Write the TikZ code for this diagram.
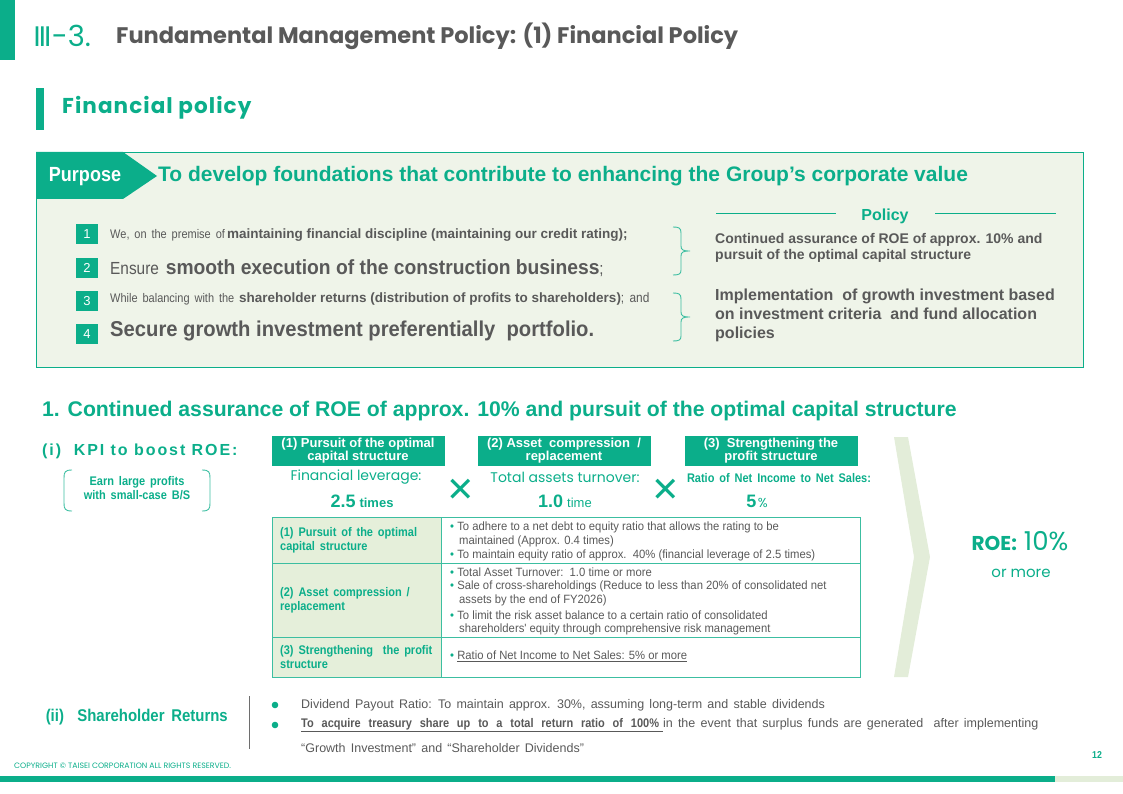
\documentclass[tikz,border=0pt]{standalone}
\usepackage{fontspec}
\setmainfont{Liberation Sans}
\newfontfamily\gothic{Poppins}
\newfontfamily\narrow{Liberation Sans}[FakeStretch=0.88]
\newfontfamily\midn{Liberation Sans}[FakeStretch=0.94]
\newfontfamily\narrowws{Liberation Sans}[FakeStretch=0.88, WordSpace=1.6]
\newfontfamily\widews{Liberation Sans}[WordSpace=1.5]
\newfontfamily\dejavu{DejaVu Sans}
\usetikzlibrary{calc}
\definecolor{tgreen}{RGB}{11,174,138}
\definecolor{bggreen}{RGB}{239,244,233}
\definecolor{cellgreen}{RGB}{229,239,218}
\definecolor{chev}{RGB}{227,237,217}
\definecolor{tgray}{RGB}{89,89,89}
\definecolor{lgray}{RGB}{110,110,110}
\newcommand\fsz[2]{\fontsize{#1}{#2}\selectfont}
\tikzset{
  txt/.style={inner sep=0pt, anchor=west, text=tgray},
  gtxt/.style={inner sep=0pt, text=tgreen},
  numbox/.style={fill=tgreen, text=white, minimum width=22pt, minimum height=20pt, inner sep=0pt, font=\fsz{13}{15}},
  hdrbox/.style={fill=tgreen, text=white, minimum width=173pt, minimum height=30pt, inner sep=0pt, align=center, font=\bfseries\fsz{13}{13}},
  bracepath/.style={draw=tgreen!80, line width=0.9pt},
  tline/.style={draw=tgreen, line width=0.8pt},
  cell/.style={draw=tgreen!80, line width=0.9pt},
  rowtxt/.style={inner sep=0pt, anchor=west, text=tgray, font=\midn\fsz{12}{14}},
  btxt/.style={inner sep=0pt, anchor=west, text=tgray, font=\widews\fsz{12.5}{14}},
  celltxt/.style={inner sep=0pt, anchor=west, text=tgreen, align=left, font=\narrow\bfseries\fsz{12.5}{14}},
  xmark/.style={inner sep=0pt, text=tgreen, font=\dejavu\bfseries\fsz{34}{36}},
}
\begin{document}
\begin{tikzpicture}[x=1pt,y=-1pt]
\useasboundingbox (0,0) rectangle (1123,794);
% header
\fill[tgreen] (0,0) rectangle (15,60);
\node[gtxt, anchor=west] (num) at (33,36) {\dejavu\fsz{27}{28}Ⅲ\gothic\fsz{29}{30}-3.};
\node[txt] (title) at (116,36) {\gothic\bfseries\fsz{22.5}{24}Fundamental Management Policy: (1) Financial Policy};
\fill[tgreen] (36,88) rectangle (44,130);
\node[gtxt, anchor=west] (fp) at (62,108) {\gothic\bfseries\fsz{21.5}{24}\addfontfeatures{LetterSpace=5}Financial policy};
% purpose box
\draw[tgreen, fill=bggreen, line width=0.8pt] (36,152) rectangle (1083,367);
\fill[tgreen] (36,152) -- (123,152) -- (157,176) -- (123,199) -- (36,199) -- cycle;
\node[inner sep=0pt, text=white] (purpose) at (85,177) {\narrow\bfseries\fsz{20.5}{22}Purpose};
\node[gtxt, anchor=west] (ptext) at (158,176) {\bfseries\fsz{21}{24}To develop foundations that contribute to enhancing the Group's corporate value};
% numbered items
\node[numbox] (n1) at (87,234) {1};
\node[numbox] (n2) at (87,268) {2};
\node[numbox] (n3) at (87,301) {3};
\node[numbox] (n4) at (87,334) {4};
\node[txt] (l1) at (110,235) {\narrow\fsz{12.5}{14}We, on the premise of\,\normalfont\fsz{13.5}{15}\bfseries maintaining financial discipline (maintaining our credit rating);};
\node[txt] (l2) at (110,268) {\narrow\fsz{17.5}{20}Ensure \midn\bfseries\fsz{20.5}{22}smooth execution of the construction business\narrow\mdseries\fsz{17}{20};};
\node[txt] (l3) at (110,299) {\narrow\fsz{12.5}{14}While balancing with the \normalfont\fsz{13.5}{15}\bfseries shareholder returns (distribution of profits to shareholders)\narrow\mdseries; and};
\node[txt] (l4) at (110,331) {\midn\bfseries\fsz{21.5}{24}Secure growth investment preferentially\ \ portfolio.};
% braces
\draw[bracepath] (673,227) .. controls (679,227) and (681,228) .. (681,233) -- (681,246) .. controls (681,250) and (683,251) .. (690,251) .. controls (683,251) and (681,252) .. (681,256) -- (681,270) .. controls (681,274) and (679,275) .. (673,275);
\draw[bracepath] (673,293) .. controls (679,293) and (681,294) .. (681,299) -- (681,312) .. controls (681,316) and (683,317) .. (690,317) .. controls (683,317) and (681,318) .. (681,322) -- (681,336) .. controls (681,340) and (679,341) .. (673,341);
% policy
\node[gtxt] (policy) at (885,216) {\bfseries\fsz{16}{18}Policy};
\draw[tline] (716,213) -- (836,213);
\draw[tline] (935,213) -- (1056,213);
\node[txt, align=left, font=\bfseries\fsz{14}{16.5}] (p1) at (715,248) {Continued assurance of ROE of approx. 10\% and\\pursuit of the optimal capital structure};
\node[txt, align=left, font=\bfseries\fsz{16}{19}] (p2) at (715,315) {Implementation\ \ of growth investment based\\on investment criteria\ \ and fund allocation\\policies};
% section 1
\node[gtxt, anchor=west] (s1) at (42,411) {\bfseries\fsz{21.2}{22}1. Continued assurance of ROE of approx. 10\% and pursuit of the optimal capital structure};
\node[gtxt, anchor=west] (kpi) at (42,451) {\bfseries\fsz{16}{18}\addfontfeatures{LetterSpace=12}(i)\ \ KPI to boost ROE:};
\draw[bracepath] (72,470) .. controls (65,470) and (64,472) .. (64,478) -- (64,503) .. controls (64,509) and (65,511) .. (72,511);
\draw[bracepath] (202,470) .. controls (209,470) and (210,472) .. (210,478) -- (210,503) .. controls (210,509) and (209,511) .. (202,511);
\node[gtxt, align=center, font=\narrow\bfseries\fsz{12.5}{14}] (earn) at (137,488) {Earn large profits\\with small-case B/S};
% header boxes
\node[hdrbox] (h1) at (358,451) {(1) Pursuit of the optimal\\capital structure};
\node[hdrbox] (h2) at (564,451) {(2) Asset\ \ compression\ \ /\\replacement};
\node[hdrbox] (h3) at (771,451) {(3)\ \ Strengthening the\\profit structure};
\node[gtxt] (k1a) at (356,477) {\gothic\fsz{14}{16}Financial leverage:};
\node[gtxt] (k1b) at (362,501) {\bfseries\fsz{18}{20}2.5\hspace{4pt}\fsz{13}{15}times};
\node[xmark] (x1) at (461,490) {✕};
\node[gtxt] (k2a) at (565,477) {\gothic\fsz{14}{16}Total assets turnover:};
\node[gtxt] (k2b) at (565,501) {\bfseries\fsz{18}{20}1.0\hspace{4pt}\mdseries\fsz{13}{15}time};
\node[xmark] (x2) at (666,490) {✕};
\node[gtxt] (k3a) at (779,478) {\narrow\bfseries\fsz{12.5}{14}Ratio of Net Income to Net Sales:};
\node[gtxt] (k3b) at (757,501) {\bfseries\fsz{18}{20}5\hspace{1.5pt}\gothic\mdseries\fsz{13}{15}\%};
% table
\fill[cellgreen] (272,517) rectangle (441,677);
\draw[cell] (272,517) rectangle (860,677);
\draw[cell] (441,517) -- (441,677);
\draw[cell] (272,563) -- (860,563);
\draw[cell] (272,637) -- (860,637);
\node[celltxt] (c1) at (280,540) {(1) Pursuit of the optimal\\capital structure};
\node[celltxt] (c2) at (280,600) {(2) Asset compression /\\replacement};
\node[celltxt] (c3) at (280,657) {(3) Strengthening\ \ the profit\\structure};
\node[rowtxt] (r1a) at (450,527) {{\color{tgreen}•}\ To adhere to a net debt to equity ratio that allows the rating to be};
\node[rowtxt] (r1b) at (459,541) {maintained (Approx. 0.4 times)};
\node[rowtxt] (r1c) at (450,555) {{\color{tgreen}•}\ To maintain equity ratio of approx.\ \ 40\% (financial leverage of 2.5 times)};
\node[rowtxt] (r2a) at (450,572) {{\color{tgreen}•}\ Total Asset Turnover:\ \ 1.0 time or more};
\node[rowtxt] (r2b) at (450,586) {{\color{tgreen}•}\ Sale of cross-shareholdings (Reduce to less than 20\% of consolidated net};
\node[rowtxt] (r2c) at (459,600) {assets by the end of FY2026)};
\node[rowtxt] (r2d) at (450,615) {{\color{tgreen}•}\ To limit the risk asset balance to a certain ratio of consolidated};
\node[rowtxt] (r2e) at (459,629) {shareholders' equity through comprehensive risk management};
\node[rowtxt] (r3a) at (450,656) {{\color{tgreen}•}\ \underline{Ratio of Net Income to Net Sales: 5\% or more}};
% chevron
\fill[chev] (894,437) -- (908,437) -- (930,557) -- (908,677) -- (894,677) -- (914,557) -- cycle;
\node[gtxt] (roe) at (1020,541) {\gothic\bfseries\fsz{20}{22}ROE:\hspace{7pt}\mdseries\fsz{26}{28}10\%};
\node[gtxt] (roe2) at (1021,573) {\gothic\fsz{15}{17}or more};
% shareholder returns
\node[gtxt, anchor=east] (sr) at (228,717) {\narrow\bfseries\fsz{17}{18}(ii)\ \ Shareholder Returns};
\draw[lgray, line width=0.7pt] (249,696) -- (249,749);
\fill[tgreen] (275,705) circle (3.3);
\fill[tgreen] (275,725) circle (3.3);
\node[btxt] (b1) at (301,705) {Dividend Payout Ratio: To maintain approx. 30\%, assuming long-term and stable dividends};
\node[btxt] (b2) at (301,725) {\underline{\narrowws\bfseries To acquire treasury share up to a total return ratio of 100\%\hspace{4pt}}in the event that surplus funds are generated\ \ after implementing};
\node[btxt] (b3) at (301,748) {“Growth Investment” and “Shareholder Dividends”};
% footer
\node[gtxt] (page) at (1097,755) {\bfseries\narrow\fsz{10}{12}12};
\node[gtxt, anchor=west] (copy) at (14,766) {\gothic\fsz{7.8}{8}COPYRIGHT © TAISEI CORPORATION ALL RIGHTS RESERVED.};
\fill[tgreen] (0,776) rectangle (1055,782);
\fill[chev] (1055,776) rectangle (1123,782);
\end{tikzpicture}
\end{document}
